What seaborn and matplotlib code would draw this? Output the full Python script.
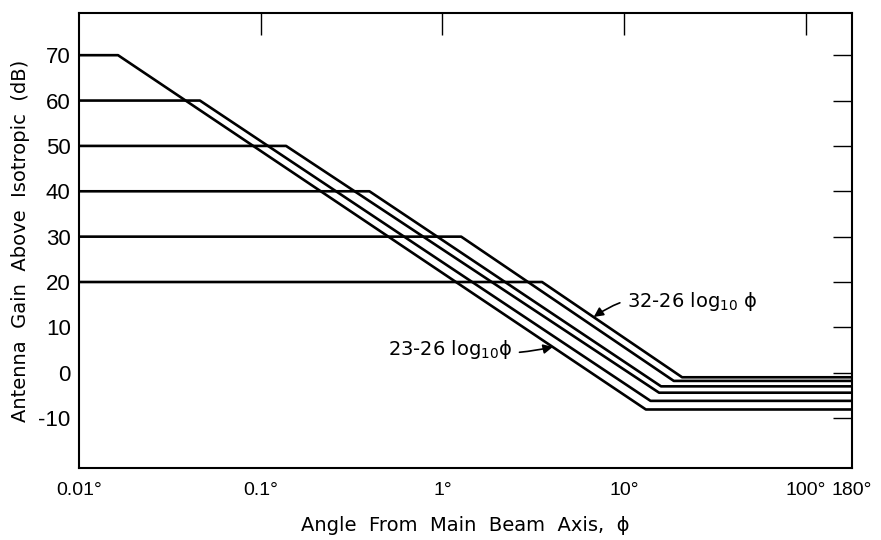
import matplotlib
matplotlib.use("Agg")
import matplotlib.pyplot as plt
import seaborn as sns
import pandas as pd

# ---- data ----
max_gain = [70, 60, 50, 40, 30, 20]                  # dB, flat main-beam level
beam_edge = [0.0164, 0.0463, 0.138, 0.397, 1.27, 3.54]  # deg, end of flat part
floor_edge = [13.2, 14.0, 15.6, 16.0, 18.8, 20.9]      # deg, start of back-lobe floor
floor_gain = [-8.1, -6.2, -4.4, -3.0, -1.8, -1.0]      # dB, back-lobe floor
phi_min, phi_max = 0.01, 180

xtick_vals = [0.01, 0.1, 1, 10, 100, 180]
xtick_labels = ["0.01°", "0.1°", "1°", "10°", "100°", "180°"]
ytick_vals = [-10, 0, 10, 20, 30, 40, 50, 60, 70]

rows = []
for g, b, fe, fg in zip(max_gain, beam_edge, floor_edge, floor_gain):
    for p, v in zip([phi_min, b, fe, phi_max], [g, g, fg, fg]):
        rows.append({"phi": p, "gain": v, "curve": str(g)})
df = pd.DataFrame(rows)

sns.set_theme(style="white")
plt.rcParams["font.family"] = ["DejaVu Sans"]
plt.rcParams["text.color"] = "black"
plt.rcParams["axes.labelcolor"] = "black"
plt.rcParams["xtick.color"] = "black"
plt.rcParams["ytick.color"] = "black"

fig = plt.figure(figsize=(8.81, 5.4), dpi=100)
ax = fig.add_axes([79 / 881, 1 - 468 / 540, (852 - 79) / 881, (468 - 13) / 540])

sns.lineplot(data=df, x="phi", y="gain", hue="curve", units="curve",
             estimator=None, sort=False, palette=["black"] * 6,
             linewidth=1.9, legend=False, ax=ax)

ax.set_xscale("log")
ax.set_xlim(phi_min, phi_max)
ax.set_ylim(-21, 79.3)

ax.set_xticks(xtick_vals)
ax.set_xticklabels(xtick_labels, family="Liberation Sans", fontsize=14)
ax.xaxis.set_minor_locator(matplotlib.ticker.NullLocator())
ax.set_yticks(ytick_vals)
ax.set_yticklabels([str(v) for v in ytick_vals], family="Liberation Sans",
                   fontsize=16)

ax.tick_params(axis="x", which="major", direction="in", length=24, width=1.0,
               pad=10, colors="black")
ax.tick_params(axis="y", which="major", direction="in", length=9, width=1.6,
               pad=6, colors="black")

top = ax.secondary_xaxis("top")
top.set_xticks([0.1, 1, 10, 100])
top.set_xticklabels([])
top.xaxis.set_minor_locator(matplotlib.ticker.NullLocator())
top.tick_params(direction="in", length=16, width=1.0)
top.spines["top"].set_visible(False)

right = ax.secondary_yaxis("right")
right.set_yticks(ytick_vals)
right.set_yticklabels([])
right.tick_params(direction="in", length=14, width=1.0)
right.spines["right"].set_visible(False)

for s in ax.spines.values():
    s.set_color("black")
    s.set_linewidth(1.5)

ax.set_xlabel("Angle  From  Main  Beam  Axis,  ϕ", fontsize=14, labelpad=12)
ax.set_ylabel("Antenna  Gain  Above  Isotropic  (dB)", fontsize=14, labelpad=6)

ax.annotate("32-26 log$_{10}$ ϕ", xy=(6.82, 12.3), xytext=(10.4, 15.6),
            ha="left", va="center", fontsize=14,
            arrowprops=dict(arrowstyle="-|>", color="black", lw=1.2,
                            shrinkA=3, shrinkB=0,
                            connectionstyle="arc3,rad=0.25"))
ax.annotate("23-26 log$_{10}$ϕ", xy=(4.06, 5.7), xytext=(2.42, 5.1),
            ha="right", va="center", fontsize=14,
            arrowprops=dict(arrowstyle="-|>", color="black", lw=1.2,
                            shrinkA=3, shrinkB=0,
                            connectionstyle="arc3,rad=0.1"))

fig.savefig("out.png", dpi=100)
